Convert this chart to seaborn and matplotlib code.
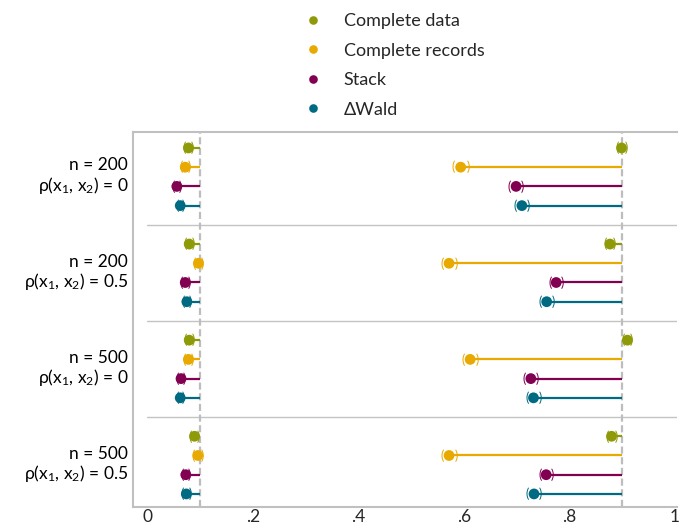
import numpy as np
import pandas as pd
import matplotlib
matplotlib.use("Agg")
import matplotlib.pyplot as plt
import matplotlib.transforms as mtransforms
import seaborn as sns

# Simulation results: rejection rates under the null (nominal 0.1) and power (nominal 0.9)
methods = ["Complete data", "Complete records", "Stack", "\u0394Wald"]
scenarios = [
    "n = 200\n\u03c1(x$_1$, x$_2$) = 0",
    "n = 200\n\u03c1(x$_1$, x$_2$) = 0.5",
    "n = 500\n\u03c1(x$_1$, x$_2$) = 0",
    "n = 500\n\u03c1(x$_1$, x$_2$) = 0.5",
]

size_complete_data = [0.078, 0.0795, 0.0795, 0.0896]
size_complete_records = [0.072, 0.097, 0.078, 0.096]
size_stack = [0.056, 0.072, 0.064, 0.073]
size_dwald = [0.0625, 0.075, 0.0625, 0.074]

power_complete_data = [0.899, 0.877, 0.910, 0.880]
power_complete_records = [0.594, 0.572, 0.612, 0.572]
power_stack = [0.699, 0.775, 0.727, 0.756]
power_dwald = [0.710, 0.757, 0.732, 0.733]

nominal_size = 0.1
nominal_power = 0.9
n_sim = 5000

x_ticks = [0, 0.2, 0.4, 0.6, 0.8, 1.0]
tick_labels = ["0", ".2", ".4", ".6", ".8", "1"]

colors = ["#8f9a08", "#e8a900", "#820052", "#006a82"]

sizes = [size_complete_data, size_complete_records, size_stack, size_dwald]
powers = [power_complete_data, power_complete_records, power_stack, power_dwald]

rows = []
for m, method in enumerate(methods):
    for g in range(len(scenarios)):
        ypos = g * 5 + m
        rows.append(dict(method=method, scenario=g, y=ypos, value=sizes[m][g], ref=nominal_size))
        rows.append(dict(method=method, scenario=g, y=ypos, value=powers[m][g], ref=nominal_power))
df = pd.DataFrame(rows)
# Monte Carlo 95% interval for each rejection rate
mcse = np.sqrt(df["value"] * (1 - df["value"]) / n_sim)
df["lo"] = df["value"] - 1.96 * mcse
df["hi"] = df["value"] + 1.96 * mcse

sns.set_theme(style="white")
plt.rcParams["font.family"] = ["Lato", "DejaVu Sans"]
plt.rcParams["mathtext.fontset"] = "custom"
plt.rcParams["mathtext.rm"] = "Lato"
plt.rcParams["mathtext.it"] = "Lato"
plt.rcParams["mathtext.default"] = "regular"

fig = plt.figure(figsize=(6.79, 5.27), dpi=100)
ax = fig.add_axes([133 / 679, 1 - 507 / 527, 544 / 679, 375 / 527])

grid_col = "#c4c4c4"
# separators between scenarios
for g in range(1, len(scenarios)):
    ax.plot([0, 1.004], [g * 5 - 1, g * 5 - 1], color=grid_col, lw=1.0, zorder=1)

# nominal reference lines
for ref in (nominal_size, nominal_power):
    ax.axvline(ref, color="#bdbdbd", lw=1.6, ls=(0, (3.2, 1.6)), zorder=1)

palette = dict(zip(methods, colors))
# lines from each estimate to its nominal value, with interval brackets
for _, r in df.iterrows():
    ax.plot([r["value"], r["ref"]], [r["y"], r["y"]], color=palette[r["method"]],
            lw=1.6, zorder=2, solid_capstyle="butt")
    for xv, ch in ((r["lo"], "("), (r["hi"], ")")):
        ax.text(xv, r["y"], ch, color=palette[r["method"]], fontsize=9,
                ha="center", va="center", zorder=3)

sns.scatterplot(data=df, x="value", y="y", hue="method", palette=palette,
                hue_order=methods, s=60, linewidth=0, ax=ax, zorder=4)

ax.set_xlim(-0.027, 1.004)
ax.set_ylim(18.68, -0.83)
ax.set_xticks(x_ticks)
ax.set_xticklabels(tick_labels, fontsize=12.5)
ax.set_yticks([])
ax.set_xlabel("")
ax.set_ylabel("")
ax.tick_params(axis="x", length=0, pad=1.5)
ax.spines["right"].set_visible(False)
for s in ("left", "top", "bottom"):
    ax.spines[s].set_color("#c0c0c0")
    ax.spines[s].set_linewidth(1.5)

trans = mtransforms.blended_transform_factory(ax.transAxes, ax.transData)
for g, lab in enumerate(scenarios):
    ax.text(-0.009, g * 5 + 1.5, lab, transform=trans, ha="right", va="center",
            multialignment="right", fontsize=12.5, linespacing=1.1, color="black")

handles, labels = ax.get_legend_handles_labels()
ax.legend_.remove()
fig.legend(handles, labels, loc="upper left", bbox_to_anchor=(304 / 679, 1 - 13 / 527),
           frameon=False, fontsize=13, handlelength=1.0, handletextpad=1.2,
           labelspacing=0.75, borderpad=0, borderaxespad=0, markerscale=0.8)

fig.savefig("out.png", dpi=100)
